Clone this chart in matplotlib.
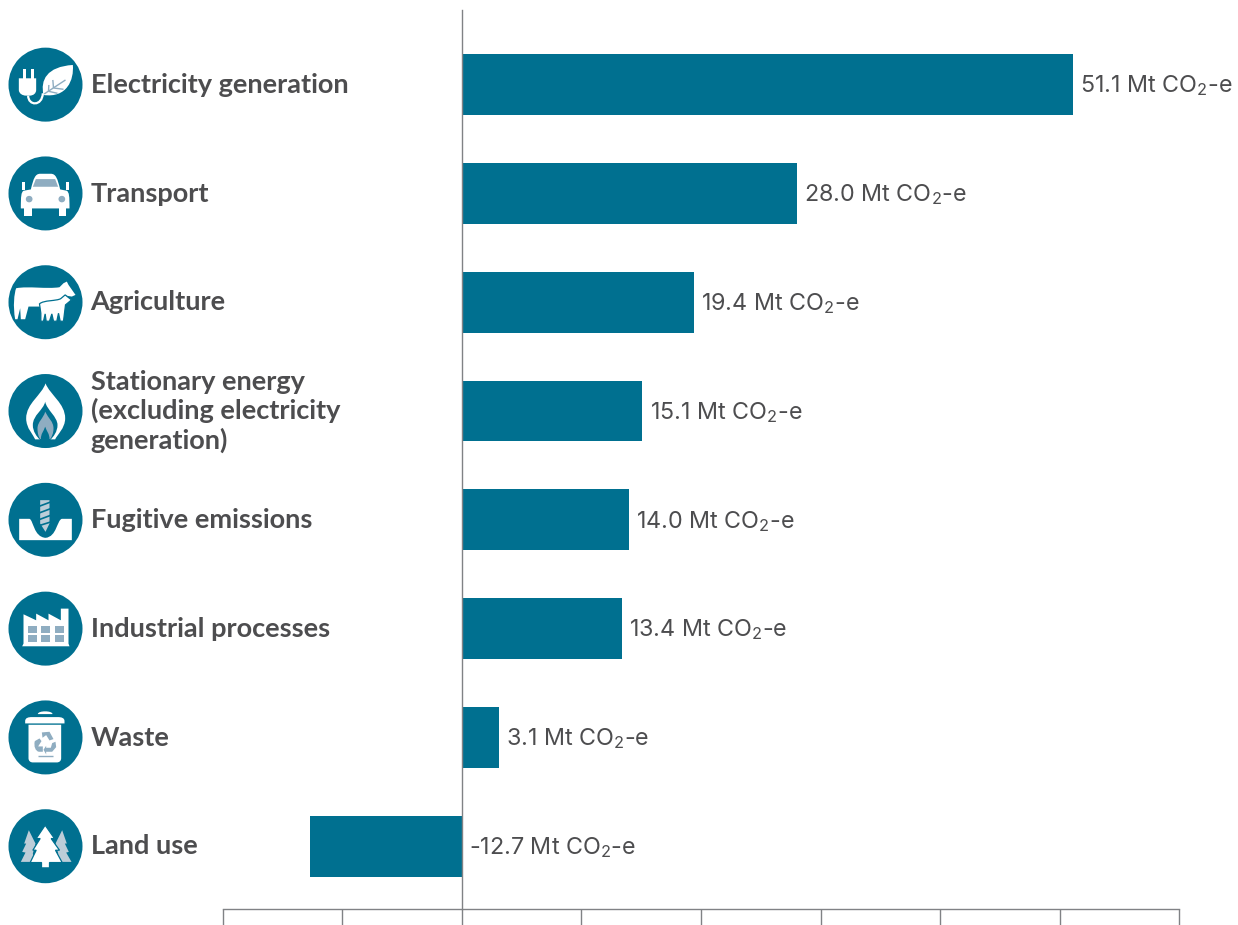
import re
import matplotlib
matplotlib.use("Agg")
import matplotlib.pyplot as plt
from matplotlib.path import Path
from matplotlib.patches import PathPatch, Circle
from matplotlib.ticker import MultipleLocator, NullFormatter
from matplotlib.transforms import blended_transform_factory as blend

categories = ["Electricity generation", "Transport", "Agriculture",
              "Stationary energy\n(excluding electricity\ngeneration)",
              "Fugitive emissions", "Industrial processes", "Waste", "Land use"]
values = [51.1, 28.0, 19.4, 15.1, 14.0, 13.4, 3.1, -12.7]
value_labels = ["51.1", "28.0", "19.4", "15.1", "14.0", "13.4", "3.1", "-12.7"]
unit = r"Mt CO$_2$-e"

TEAL = "#007090"; LIGHT = "#8fadc1"; PALE = "#bccdd8"; TEXT = "#4d4d4f"; AXIS = "#808285"
W, H = 1238, 925
plt.rcParams["font.family"] = ["Lato", "DejaVu Sans"]
plt.rcParams["mathtext.default"] = "regular"

fig = plt.figure(figsize=(W / 100, H / 100), dpi=100, facecolor="white")
ax = fig.add_axes([222.6 / W, (H - 909) / H, (1179.4 - 222.6) / W, 899 / H])
over = fig.add_axes([0, 0, 1, 1], facecolor="none")
over.set_xlim(0, W); over.set_ylim(H, 0); over.axis("off")

ax.barh(range(len(values)), values, height=0.56, color=TEAL, zorder=2)
ax.set_xlim(-20, 60)
ax.set_ylim(7.577, -0.686)
ax.set_yticks([])
ax.xaxis.set_major_locator(MultipleLocator(10))
ax.xaxis.set_major_formatter(NullFormatter())
ax.tick_params(axis="x", length=11.5, width=1.0, color=AXIS, direction="out")
for s in ("top", "right"):
    ax.spines[s].set_visible(False)
ax.spines["bottom"].set_color(AXIS); ax.spines["bottom"].set_linewidth(1.0)
ax.spines["left"].set_position(("data", 0))
ax.spines["left"].set_color(AXIS); ax.spines["left"].set_linewidth(1.0); ax.spines["left"].set_zorder(5)

for i, (v, lab) in enumerate(zip(values, value_labels)):
    ax.annotate(f"{lab} {unit}", (max(v, 0), i), xytext=(5.2, -0.9), textcoords="offset points",
                va="center", ha="left", fontsize=16.8, color=TEXT, annotation_clip=False,
                family=["Inter", "DejaVu Sans"])
tr = blend(over.transData, ax.transData)
for i, c in enumerate(categories):
    ax.text(90.6, i + 0.002, c, transform=tr, va="center", ha="left", fontsize=19.5,
            fontweight="bold", color=TEXT, linespacing=1.2, clip_on=False)


def svg(d, cx, cy, ox, oy):
    toks = re.findall(r"[MLCZ]|-?[\d.]+", d)
    verts, codes, k = [], [], 0
    pt = lambda a, b: (cx + (float(a) - ox) / 3, cy + (float(b) - oy) / 3)
    while k < len(toks):
        t = toks[k]; k += 1
        if t in "ML":
            verts.append(pt(toks[k], toks[k + 1])); codes.append(Path.MOVETO if t == "M" else Path.LINETO); k += 2
        elif t == "C":
            for _ in range(3):
                verts.append(pt(toks[k], toks[k + 1])); codes.append(Path.CURVE4); k += 2
        else:
            verts.append(verts[-1]); codes.append(Path.CLOSEPOLY)
    return Path(verts, codes)


ICONS = [
    ((136, 164), [
        ("M56 145 L108 145 L108 180 C108 190 100 197 88 197 L78 197 C66 197 56 190 56 180 Z", "white"),
        ("M68 118 L77 118 L77 146 L68 146 Z", "white"),
        ("M92 118 L101 118 L101 146 L92 146 Z", "white"),
        ("M84 197 C84 228 126 230 128 190", "cord"),
        ("M130 195 C120 150 140 110 218 105 C222 150 200 205 130 195 Z", "white"),
        ("M132 192 L196 150", "vein"), ("M160 174 L190 178", "vein"),
        ("M160 174 L158 150", "vein"), ("M145 184 L146 165", "vein"), ("M145 184 L172 190", "vein")]),
    ((136, 490), [
        ("M92 478 C100 445 105 431 120 431 L152 431 C167 431 172 445 180 478 L200 482 C207 487 208 497 208 535 L62 535 C62 497 63 487 70 482 Z", "white"),
        ("M98 470 L107 447 L165 447 L174 470 Z", LIGHT),
        ("M72 535 L95 535 L95 558 L72 558 Z", "white"), ("M175 535 L197 535 L197 558 L175 558 Z", "white"),
        ("M65 455 L75 455 L75 480 L65 480 Z", "white"), ("M197 455 L207 455 L207 480 L197 480 Z", "white"),
        ("M77 507 C77 494 97 494 97 507 C97 520 77 520 77 507 Z", LIGHT),
        ("M175 507 C175 494 195 494 195 507 C195 520 175 520 175 507 Z", LIGHT)]),
    ((136, 817), [
        ("M48 775 C85 768 140 778 178 772 L190 760 L200 755 L205 765 L226 795 L215 800 L195 797 L185 815 L120 830 L85 830 L75 868 L62 868 L60 835 L52 868 L45 868 C38 830 42 790 48 775 Z", "white"),
        ("M118 822 C130 810 170 814 182 806 L195 795 L214 810 L196 825 L190 874 L180 874 L175 850 L170 874 L160 874 L155 852 L148 874 L138 874 L135 852 L130 874 L122 874 L122 850 Z", "edge")]),
    ((136, 153), [
        ("M136 70 C150 105 195 130 195 175 C195 205 170 225 165 238 L105 238 C100 225 78 205 78 175 C78 130 125 105 136 70 Z", "white"),
        ("M135 125 C140 150 172 170 172 195 C172 215 160 230 150 240 L120 240 C110 230 98 215 98 195 C98 165 130 150 135 125 Z", TEAL),
        ("M135 155 C145 175 160 185 160 205 C160 220 155 230 150 237 L120 237 C115 230 112 220 112 205 C112 185 130 175 135 155 Z", LIGHT),
        ("M135 200 C140 215 148 220 148 238 L122 238 C122 220 130 215 135 200 Z", TEAL)]),
    ((136, 479), [
        ("M57 476 L88 476 C100 480 100 530 136 533 C170 530 170 480 185 476 L215 476 L215 540 L57 540 Z", "white"),
        ("M120 420 L148 420 L148 490 L136 515 L120 490 Z", PALE),
        ("M118 438 L150 426", "stripe"), ("M118 458 L150 446", "stripe"), ("M118 478 L150 466", "stripe"), ("M118 496 L150 486", "stripe")]),
    ((136, 805), [
        ("M70 762 L108 780 L108 760 L145 780 L145 760 L182 780 L182 745 L205 745 L205 850 L208 858 L66 858 L70 850 Z", "white"),
        ("M84 798 L110 798 L110 818 L84 818 Z", LIGHT), ("M123 798 L150 798 L150 818 L123 818 Z", LIGHT),
        ("M163 798 L190 798 L190 818 L163 818 Z", LIGHT), ("M84 825 L110 825 L110 845 L84 845 Z", LIGHT),
        ("M123 825 L150 825 L150 845 L123 845 Z", LIGHT), ("M163 825 L190 825 L190 845 L163 845 Z", LIGHT)]),
    ((136, 141), [
        ("M113 71 C113 60 157 60 157 71 Z", "white"),
        ("M75 99 L75 92 C75 82 85 80 95 80 L173 80 C183 80 193 82 193 92 L193 99 Z", "white"),
        ("M85 103 L183 103 L183 203 C183 212 177 216 170 216 L98 216 C91 216 85 212 85 203 Z", "white"),
        ("M113 197 L157 197", "bar"),
        ("M125 126 L148 124 L160 146 L148 150 L138 134 L127 142 Z", LIGHT),
        ("M104 152 L118 144 L124 152 L114 168 L128 168 L128 184 L116 184 C106 182 100 168 104 152 Z", LIGHT),
        ("M166 154 L168 170 L156 184 L138 184 L138 192 L130 178 L138 166 L138 172 L152 172 L156 158 Z", LIGHT)]),
    ((138, 468), [
        ("M88 420 L108 460 L100 490 L105 515 L64 515 L78 487 L68 485 L80 460 L74 460 Z", PALE),
        ("M188 420 L168 460 L176 490 L171 515 L216 515 L200 487 L208 485 L196 460 L202 460 Z", PALE),
        ("M137 405 L165 445 L155 445 L180 480 L168 480 L188 517 L150 517 L150 533 L126 533 L126 517 L92 517 L110 480 L100 480 L122 445 L110 445 Z", "edge")]),
]

row_y = [float(ax.transData.transform((0, i))[1]) for i in range(len(categories))]
for i, ((ox, oy), parts) in enumerate(ICONS):
    cy = H - row_y[i]
    cx = 45.5
    over.add_patch(Circle((cx, cy), 37, fc=TEAL, ec="none"))
    for d, kind in parts:
        p = svg(d, cx, cy, ox, oy)
        if kind == "cord":
            over.add_patch(PathPatch(p, fc="none", ec="white", lw=1.6))
        elif kind in ("vein", "bar"):
            over.add_patch(PathPatch(p, fc="none", ec=LIGHT, lw=1.0))
        elif kind == "stripe":
            over.add_patch(PathPatch(p, fc="none", ec=TEAL, lw=1.2))
        elif kind == "edge":
            over.add_patch(PathPatch(p, fc="white", ec=TEAL, lw=0.9))
        else:
            over.add_patch(PathPatch(p, fc=kind, ec="none"))

fig.savefig("out.png", dpi=100, facecolor="white")
